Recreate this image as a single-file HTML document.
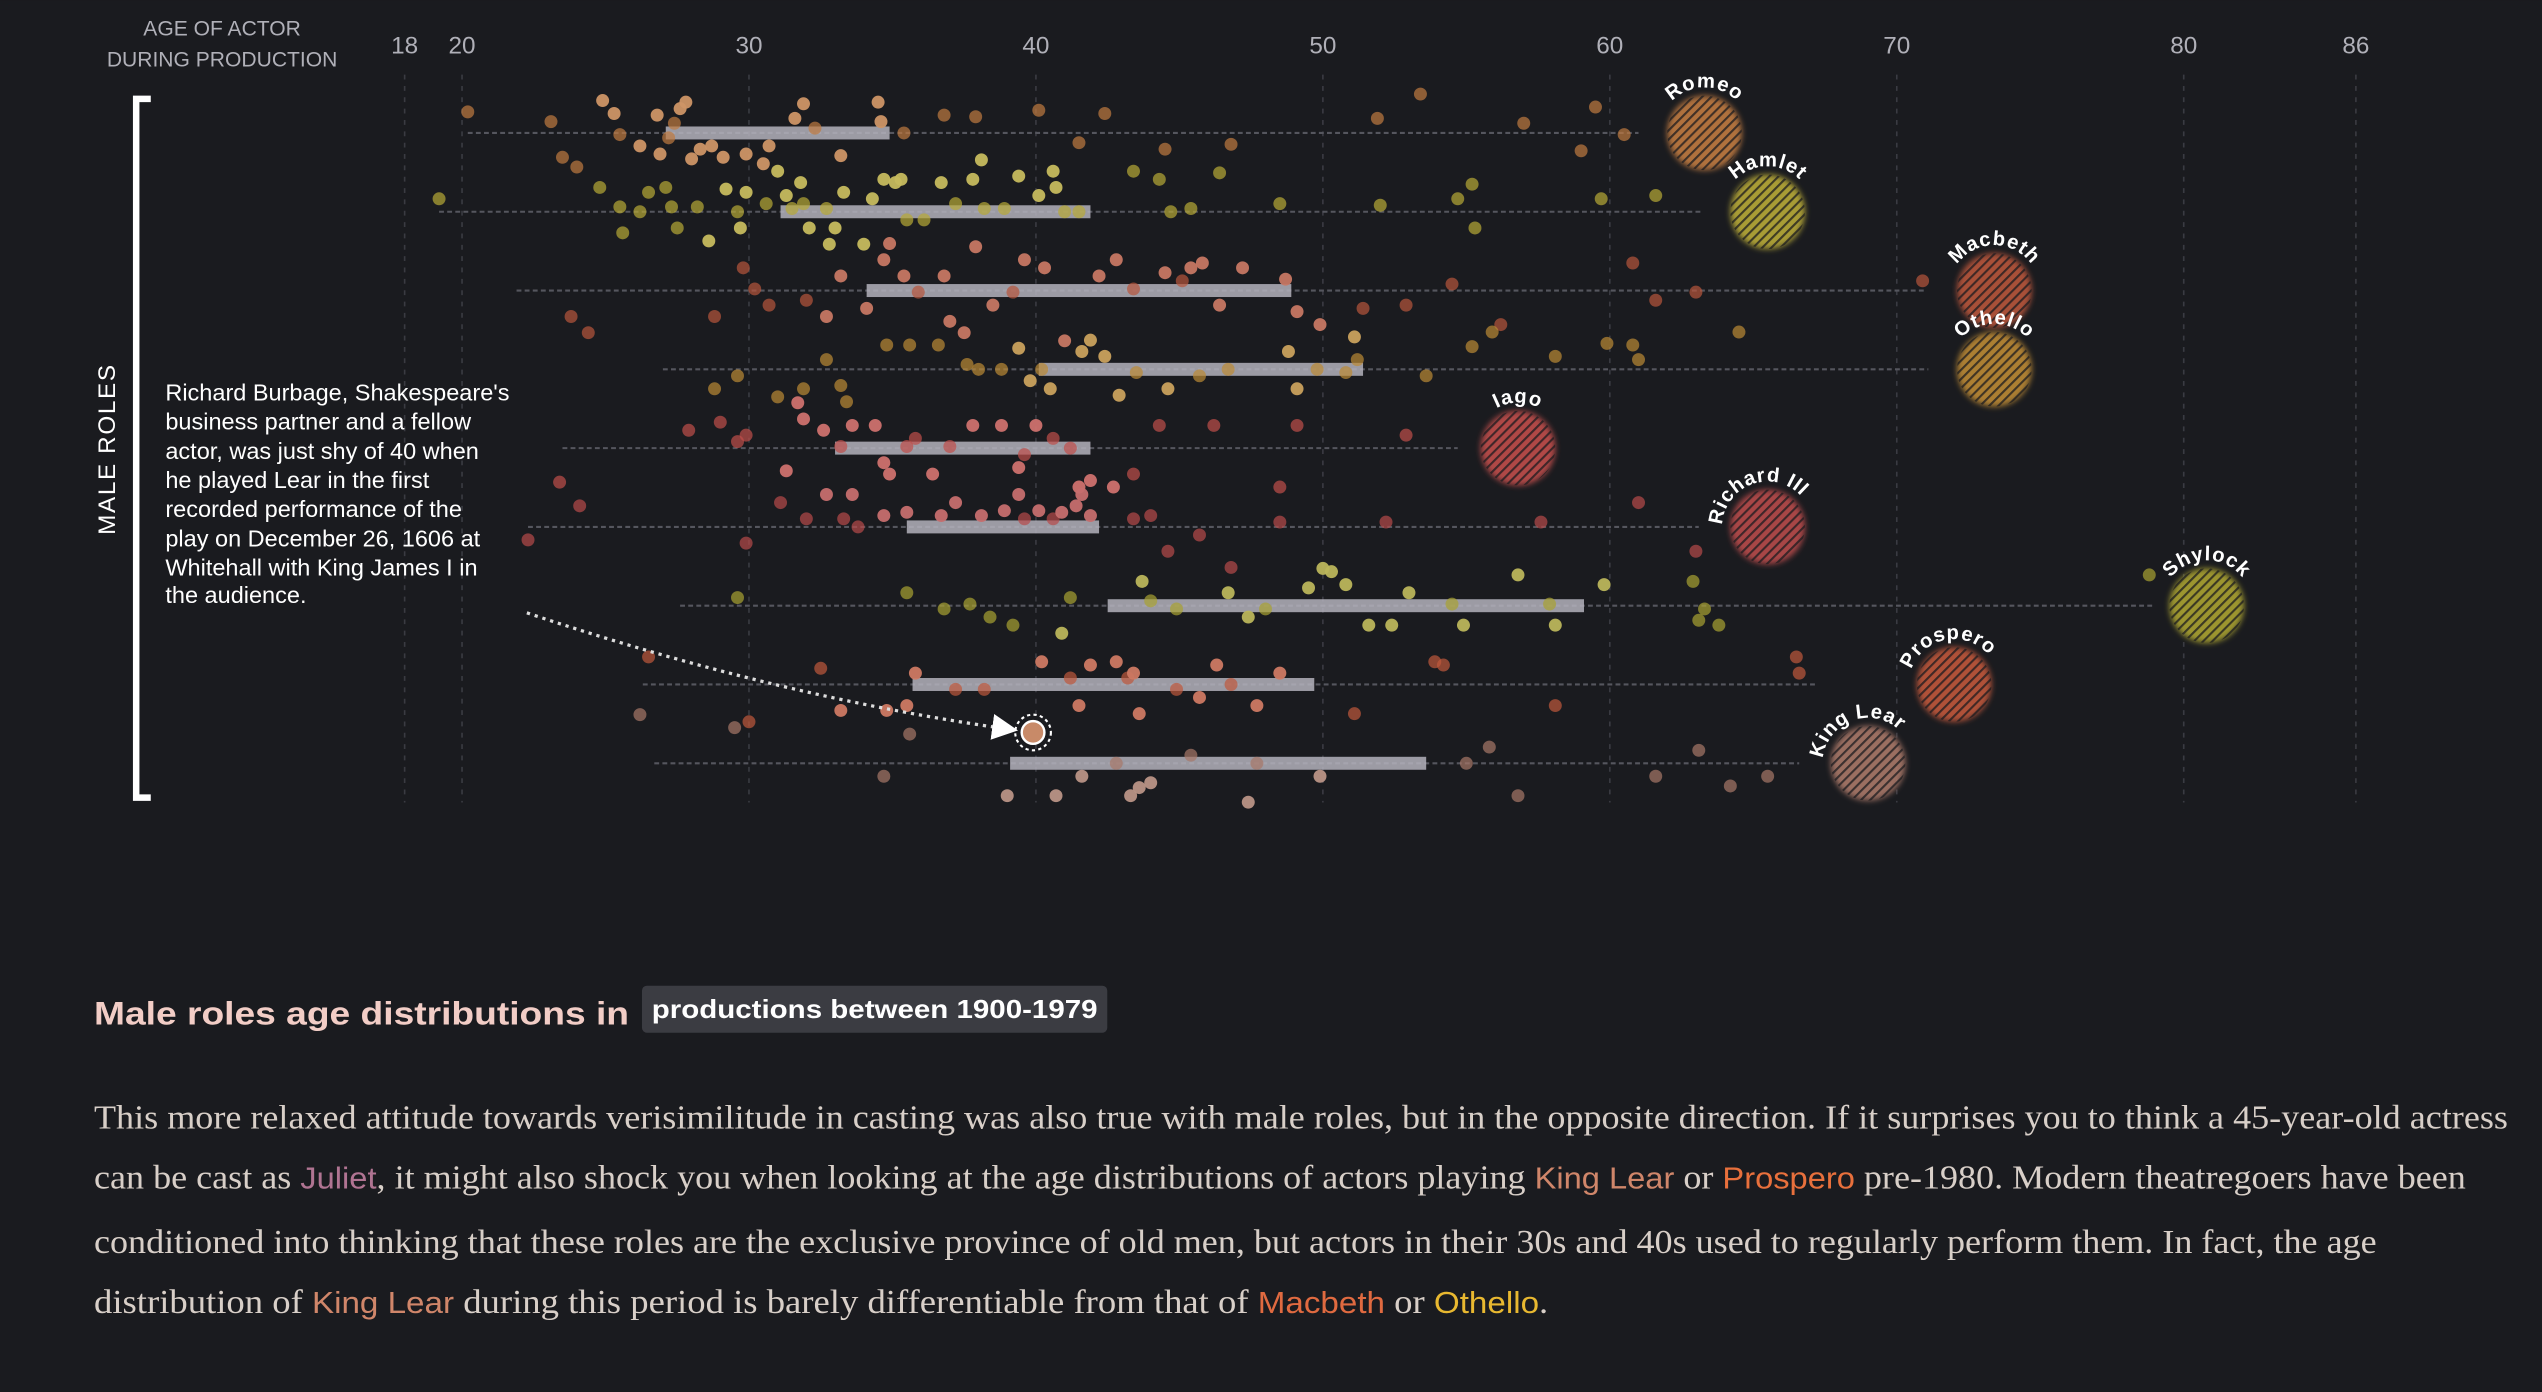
<!DOCTYPE html>
<html><head><meta charset="utf-8"><style>
html,body{margin:0;padding:0;background:#1a1b1f;}
svg{display:block}
</style></head><body>
<svg id="chart" width="2542" height="1392" viewBox="0 0 1568 858.6" xmlns="http://www.w3.org/2000/svg">
<defs>
<pattern id="hatch" patternUnits="userSpaceOnUse" width="4" height="4" patternTransform="rotate(45)">
<rect width="1.3" height="4" fill="#1a1b1f" opacity="0.75"/>
</pattern>
<filter id="soft" x="-30%" y="-30%" width="160%" height="160%"><feGaussianBlur stdDeviation="1.8"/></filter>
<marker id="arrowhead" markerWidth="8" markerHeight="8" refX="6" refY="4" orient="auto"><path d="M0,0 L8,4 L0,8 Z" fill="#fff"/></marker>
</defs>
<rect width="1568" height="858.6" fill="#1a1b1f"/>
<g id="grid"></g>
<g id="rows"></g>
<g id="bubbles"></g>
<text x="137" y="22" text-anchor="middle" fill="#b0b0b8" font-family="Liberation Sans, sans-serif" font-size="13">AGE OF ACTOR</text>
<text x="137" y="41" text-anchor="middle" fill="#b0b0b8" font-family="Liberation Sans, sans-serif" font-size="13">DURING PRODUCTION</text>
<path d="M93,61 H84 V492 H93" fill="none" stroke="#fff" stroke-width="4"/>
<text transform="translate(71,277) rotate(-90)" text-anchor="middle" fill="#fff" font-family="Liberation Sans, sans-serif" font-size="15" letter-spacing="1">MALE ROLES</text>
<g fill="#fff" font-family="Liberation Sans, sans-serif" font-size="14.5">
<text x="102" y="247">Richard Burbage, Shakespeare's</text>
<text x="102" y="265">business partner and a fellow</text>
<text x="102" y="283">actor, was just shy of 40 when</text>
<text x="102" y="301">he played Lear in the first</text>
<text x="102" y="319">recorded performance of the</text>
<text x="102" y="337">play on December 26, 1606 at</text>
<text x="102" y="355">Whitehall with King James I in</text>
<text x="102" y="372">the audience.</text>
</g>
<path d="M325,378 Q480,430 624,450" fill="none" stroke="#ddd" stroke-width="2" stroke-dasharray="2,3" marker-end="url(#arrowhead)"/>
<g id="highlight"></g>
<text x="58" y="632" fill="#f2cdc6" font-family="Liberation Sans, sans-serif" font-size="20" font-weight="bold" textLength="330" lengthAdjust="spacingAndGlyphs">Male roles age distributions in</text>
<rect x="396" y="608" width="287" height="29" rx="3" fill="#3b3c42"/>
<text x="402" y="628" fill="#fff" font-family="Liberation Sans, sans-serif" font-size="16" font-weight="bold" textLength="275" lengthAdjust="spacingAndGlyphs">productions between 1900-1979</text>
<g font-family="Liberation Serif, serif" font-size="21" fill="#d8cfc8">
<text x="58" y="696" textLength="1489" lengthAdjust="spacingAndGlyphs">This more relaxed attitude towards verisimilitude in casting was also true with male roles, but in the opposite direction. If it surprises you to think a 45-year-old actress</text>
<text x="58" y="733" textLength="1463" lengthAdjust="spacingAndGlyphs">can be cast as <tspan fill="#b07492" font-family="Liberation Sans, sans-serif" font-size="19">Juliet</tspan>, it might also shock you when looking at the age distributions of actors playing <tspan fill="#d0866a" font-family="Liberation Sans, sans-serif" font-size="19">King Lear</tspan> or <tspan fill="#e8703c" font-family="Liberation Sans, sans-serif" font-size="19">Prospero</tspan> pre-1980. Modern theatregoers have been</text>
<text x="58" y="773" textLength="1408" lengthAdjust="spacingAndGlyphs">conditioned into thinking that these roles are the exclusive province of old men, but actors in their 30s and 40s used to regularly perform them. In fact, the age</text>
<text x="58" y="810" textLength="897" lengthAdjust="spacingAndGlyphs">distribution of <tspan fill="#d0866a" font-family="Liberation Sans, sans-serif" font-size="19">King Lear</tspan> during this period is barely differentiable from that of <tspan fill="#e06a40" font-family="Liberation Sans, sans-serif" font-size="19">Macbeth</tspan> or <tspan fill="#e8b830" font-family="Liberation Sans, sans-serif" font-size="19">Othello</tspan>.</text>
</g>
</svg>
<script>
const ticks = [18,20,30,40,50,60,70,80,86];
const roles = ["Romeo","Hamlet","Macbeth","Othello","Iago","Richard III","Shylock","Prospero","King Lear"];
const roleColors = ["#c07a40","#b8aa36","#b8553c","#bc8a34","#c04e4a","#b84a4a","#aaa232","#c0583c","#a87868"];
const rangeMin = [20.2,19.2,21.9,27,23.5,22.3,27.6,26.3,26.7];
const rangeMax = [61,63.2,71,71.1,54.7,63.1,78.9,67.2,66.6];
const q1 = [27.1,31.1,34.1,40.1,33,35.5,42.5,35.7,39.1];
const q3 = [34.9,41.9,48.9,51.4,41.9,42.2,59.1,49.7,53.6];
const bubbleAge = [63.3,65.5,73.4,73.4,56.8,65.5,80.8,72,69];
const labelRot = [0,0,0,0,0,-20,0,-10,-20];
// dots: [age, vertical jitter]
const romeoDots = [[20.2,-13],[23.1,-7],[23.5,15],[24,21],[24.9,-20],[25.3,-12],[25.5,1],[26.2,8],[26.8,-11],[26.9,13],[27.4,-6],[27.6,-15],[27.8,-19],[27.2,3],[28,16],[28.3,10],[28.7,8],[29.1,15],[29.9,13],[30.5,19],[30.7,8],[31.6,-9],[31.9,-18],[32.3,-3],[33.2,14],[34.5,-19],[34.6,-7],[35.4,0],[36.8,-11],[37.9,-10],[40.1,-14],[41.5,6],[42.4,-12],[44.5,10],[46.8,7],[51.9,-9],[53.4,-24],[57,-6],[59,11],[59.5,-16],[60.5,1]];
const hamletDots = [[19.2,-8],[24.8,-15],[25.5,-3],[25.6,13],[26.2,0],[26.5,-12],[27.1,-15],[27.3,-3],[27.5,10],[28.2,-3],[28.6,18],[29.2,-14],[29.6,0],[29.7,10],[29.9,-12],[30.6,-5],[31,-25],[31.3,-10],[31.5,-2],[31.8,-18],[31.9,-5],[32.1,10],[32.7,-2],[32.8,20],[33,10],[33.3,-12],[34,20],[34.3,-8],[34.7,-20],[35.1,-18],[35.3,-20],[35.5,5],[36.1,5],[36.7,-18],[37.2,-5],[37.8,-20],[38.1,-32],[38.2,-2],[38.9,-2],[39.4,-22],[40.1,-10],[40.6,-25],[40.7,-15],[41,0],[41.5,0],[43.4,-25],[44.3,-20],[44.7,0],[45.4,-2],[46.4,-24],[48.5,-5],[52,-4],[54.7,-8],[55.2,-17],[55.3,10],[59.7,-8],[61.6,-10]];
const macbethDots = [[23.8,16],[24.4,26],[28.8,16],[29.8,-14],[30.2,-1],[30.7,9],[32,6],[32.7,16],[33.2,-9],[34.1,11],[34.7,-19],[34.9,-29],[35.4,-9],[35.9,1],[36.8,-9],[37,19],[37.5,26],[37.9,-27],[38.5,9],[39.2,1],[39.6,-19],[40.3,-14],[41,31],[42.2,-9],[42.8,-19],[43.4,-1],[44.5,-11],[45.1,-6],[45.4,-14],[45.8,-17],[46.4,9],[47.2,-14],[48.7,-7],[49.1,13],[49.9,21],[51.4,11],[52.9,9],[54.5,-4],[56.2,21],[60.8,-17],[61.6,6],[63,1],[70.9,-6]];
const othelloDots = [[28.8,12],[29.6,4],[31,17],[31.9,12],[32.7,-6],[33.2,10],[33.4,20],[34.8,-15],[35.6,-15],[36.6,-15],[37.6,-3],[38,0],[38.8,0],[39.4,-13],[39.8,7],[40.2,0],[40.5,12],[41.6,-11],[41.9,-18],[42.4,-8],[42.9,16],[43.5,2],[44.6,12],[45.7,4],[46.7,0],[48.8,-11],[49.1,12],[49.8,0],[50.8,2],[51.1,-20],[51.2,-6],[53.6,4],[55.2,-14],[55.9,-23],[58.1,-8],[59.9,-16],[60.8,-15],[61,-6],[64.5,-23]];
const iagoDots = [[23.4,21],[27.9,-11],[29,-16],[29.6,-4],[29.9,-8],[31.3,14],[31.7,-28],[31.9,-18],[32.6,-11],[33.2,-1],[33.6,-14],[34.4,-14],[34.7,9],[34.9,16],[35.5,-1],[35.8,-6],[36.4,16],[37,-1],[37.8,-14],[38.8,-14],[39.4,12],[39.6,4],[40,-14],[40.6,-6],[41.2,0],[41.5,24],[41.9,20],[42.7,24],[43.4,16],[44.3,-14],[46.2,-14],[48.5,24],[49.1,-14],[52.9,-8]];
const richardDots = [[22.3,8],[24.1,-13],[29.9,10],[31.1,-15],[32,-5],[32.7,-20],[33.3,-5],[33.6,-20],[33.8,0],[34.7,-7],[35.5,-9],[36.7,-7],[37.2,-15],[38.1,-7],[38.9,-10],[39.4,-20],[39.6,-5],[40.1,-10],[40.6,-5],[40.9,-9],[41.4,-13],[41.6,-20],[41.9,-7],[43.4,-5],[44,-7],[44.6,15],[45.7,5],[46.8,25],[48.5,-3],[52.2,-3],[57.6,-3],[61,-15],[63,15]];
const shylockDots = [[29.6,-5],[35.5,-8],[36.8,2],[37.7,-1],[38.4,7],[39.2,12],[40.9,17],[41.2,-5],[43.7,-15],[44,-3],[44.9,2],[46.7,-8],[47.4,7],[48,2],[49.5,-11],[50,-23],[50.3,-21],[50.8,-13],[51.6,12],[52.4,12],[53,-8],[54.5,-1],[54.9,12],[56.8,-19],[57.9,-1],[58.1,12],[59.8,-13],[62.9,-15],[63.1,9],[63.3,2],[63.8,12],[78.8,-19]];
const prosperoDots = [[26.5,-17],[30,23],[32.5,-10],[33.2,16],[34.8,16],[35.5,13],[35.8,-7],[37.2,3],[38.2,3],[40.2,-14],[41.2,-4],[41.5,13],[41.9,-12],[42.8,-14],[43.2,-4],[43.4,-7],[43.6,18],[44.9,3],[45.7,8],[46.3,-12],[46.8,0],[47.7,13],[48.5,-7],[51.1,18],[53.9,-14],[54.2,-12],[58.1,13],[66.5,-17],[66.6,-7]];
const learDots = [[26.2,-30],[29.5,-22],[34.7,8],[35.6,-18],[39,20],[40.7,20],[41.6,8],[42.8,0],[43.3,20],[43.6,15],[44,12],[45.4,-5],[47.4,24],[47.7,0],[49.9,8],[55,0],[55.8,-10],[56.8,20],[61.6,8],[63.1,-8],[64.2,14],[65.5,8]];
const burbageAge = 39.9;
const allDots = [romeoDots,hamletDots,macbethDots,othelloDots,iagoDots,richardDots,shylockDots,prosperoDots,learDots];

const NS = "http://www.w3.org/2000/svg";
const x = a => 285 + (a - 20) * 17.7;
const rowY = i => 82 + i * 48.6;
function mk(tag, attrs, parent){ const e=document.createElementNS(NS,tag); for(const k in attrs) e.setAttribute(k,attrs[k]); parent.appendChild(e); return e; }
function lighten(hex, f){ const n=parseInt(hex.slice(1),16); let r=n>>16,g=(n>>8)&255,b=n&255; r=Math.round(r+(255-r)*f); g=Math.round(g+(255-g)*f); b=Math.round(b+(255-b)*f); return `rgb(${r},${g},${b})`; }

const grid = document.getElementById('grid');
ticks.forEach(t => {
  const l = mk('line',{x1:x(t),x2:x(t),y1:46,y2:495,stroke:'#3a3b42','stroke-width':1,'stroke-dasharray':'3,4'},grid);
  
  
  const tx = mk('text',{x:x(t),y:33,'text-anchor':'middle',fill:'#b0b0b8','font-family':'Liberation Sans, sans-serif','font-size':15},grid);
  tx.textContent = t;
  
  
});

const rowsG = document.getElementById('rows');
const bubG = document.getElementById('bubbles');
roles.forEach((r,i) => {
  const y = rowY(i), c = roleColors[i];
  const g = mk('g',{},rowsG);
  
  
  const rl = mk('line',{x1:x(rangeMin[i]),x2:x(rangeMax[i]),y1:y,y2:y,stroke:'#55565e','stroke-width':1.3,'stroke-dasharray':'3,2'},g);
  
  
  const br = mk('rect',{x:x(q1[i]),y:y-4,width:x(q3[i])-x(q1[i]),height:8,fill:'#b4b2bc','fill-opacity':0.85},g);
  
  
  allDots[i].forEach(d => {
    const bright = d[0] >= q1[i]-3 && d[0] <= q3[i]+1 && Math.abs(d[1]) > 6;
    const dot = mk('circle',{cx:x(d[0]),cy:y+d[1],r:4,fill: bright? lighten(c,0.2): c,'fill-opacity': bright?0.95:0.7},g);
    
    
  });
  const bx = x(bubbleAge[i]);
  const bg = mk('g',{},bubG);
  
  
  mk('circle',{cx:bx,cy:y,r:23,fill:c,filter:'url(#soft)','fill-opacity':0.9},bg);
  mk('circle',{cx:bx,cy:y,r:23,fill:'url(#hatch)'},bg);
  const pid = 'arc'+i;
  mk('path',{id:pid,d:`M${bx-28},${y} A28,28 0 0 1 ${bx+28},${y}`,fill:'none',transform:`rotate(${labelRot[i]} ${bx} ${y})`},bg);
  const lt = mk('text',{fill:'#fff','font-family':'Liberation Sans, sans-serif','font-size':12.5,'font-weight':'bold','letter-spacing':0.5},bg);
  
  
  const tp = mk('textPath',{href:'#'+pid,startOffset:'50%','text-anchor':'middle'},lt);
  tp.textContent = r;
});

const hl = document.getElementById('highlight');
const hy = rowY(8) - 19;
const ring = mk('circle',{cx:x(burbageAge),cy:hy,r:11,fill:'none',stroke:'#fff','stroke-width':1.3,'stroke-dasharray':'2,2'},hl);


const hd = mk('circle',{cx:x(burbageAge),cy:hy,r:7,fill:'#c88a68',stroke:'#fff','stroke-width':1.5},hl);


</script>
</body></html>
